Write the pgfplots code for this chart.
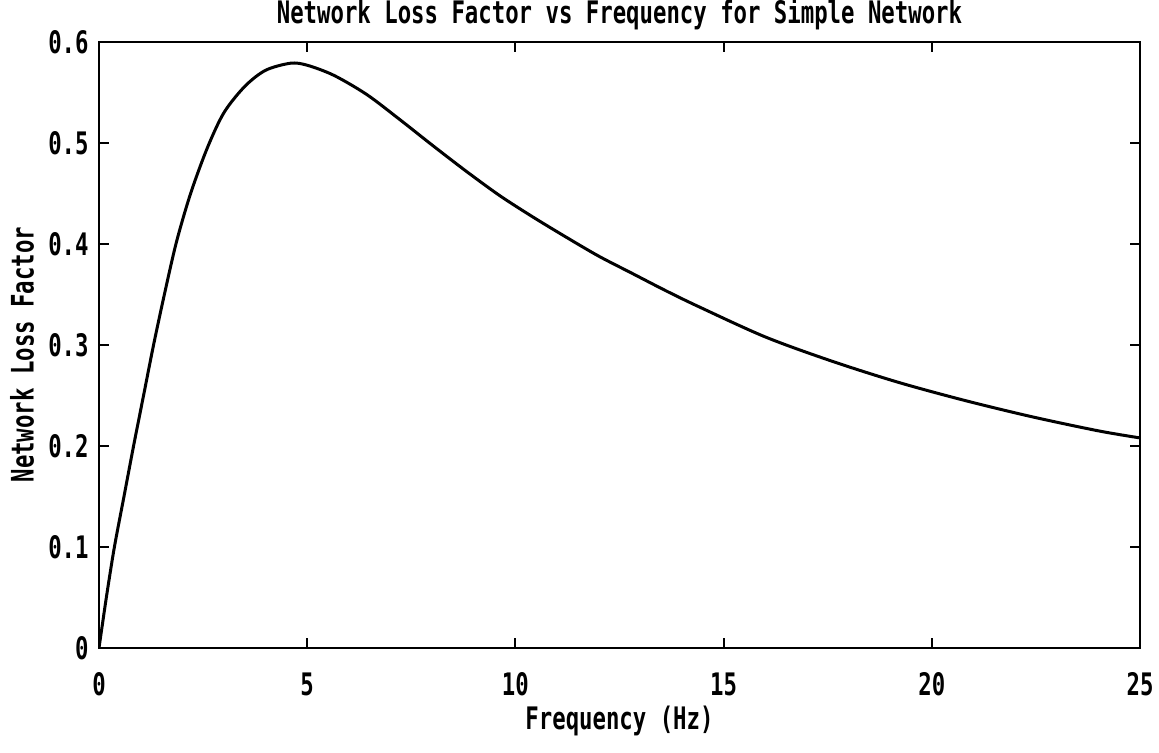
\documentclass[border=0pt]{standalone}
\usepackage{fontspec}
\setmainfont{DejaVu Sans Mono}[FakeStretch=0.72]
\usepackage{pgfplots}
\pgfplotsset{compat=1.18}
\newcommand\pf{\fontsize{15.5}{18}\selectfont\bfseries}
\begin{document}
\begin{tikzpicture}
\path[use as bounding box] (-49.5pt,-52.5pt) rectangle (530pt,324pt);
\begin{axis}[
  at={(0,0)}, anchor=south west,
  scale only axis, width=520.5pt, height=303pt,
  xmin=0, xmax=25, ymin=0, ymax=0.6,
  xtick={0,5,10,15,20,25}, ytick={0,0.1,0.2,0.3,0.4,0.5,0.6},
  tick align=inside, major tick length=5pt,
  axis line style={line width=1pt}, every tick/.style={line width=1pt, black},
  /pgf/number format/assume math mode=true,
  ticklabel style={font=\pf},
  xticklabel style={anchor=north, inner sep=0pt, yshift=-12pt},
  yticklabel style={anchor=east, inner sep=0pt, xshift=-5pt},
  title={Network Loss Factor vs Frequency for Simple Network},
  title style={font=\pf, at={(0.5,1)}, anchor=base, yshift=3pt, inner sep=0pt},
  xlabel={Frequency (Hz)},
  xlabel style={font=\pf, at={(0.5,-0.12)}, anchor=center},
  ylabel={Network Loss Factor},
  ylabel style={font=\pf, at={(-0.074,0.484)}, anchor=center, rotate=0},
]
\addplot[black, line width=1.5pt, smooth] table {
x y
0 0
0.18 0.051
0.37 0.1
0.6 0.15
0.83 0.2
1.07 0.25
1.31 0.3
1.57 0.35
1.86 0.402
2.2 0.45
2.6 0.495
3.0 0.530
3.5 0.556
4.0 0.572
4.6 0.579
5.0 0.577
5.64 0.567
6.43 0.548
7.23 0.523
8.03 0.497
8.82 0.472
9.62 0.448
10.41 0.427
11.21 0.407
12.0 0.388
12.8 0.371
13.6 0.354
14.4 0.338
16.0 0.308
17.6 0.284
19.2 0.263
20.8 0.245
22.4 0.229
24.0 0.215
25 0.208
};
\end{axis}
\end{tikzpicture}
\end{document}
